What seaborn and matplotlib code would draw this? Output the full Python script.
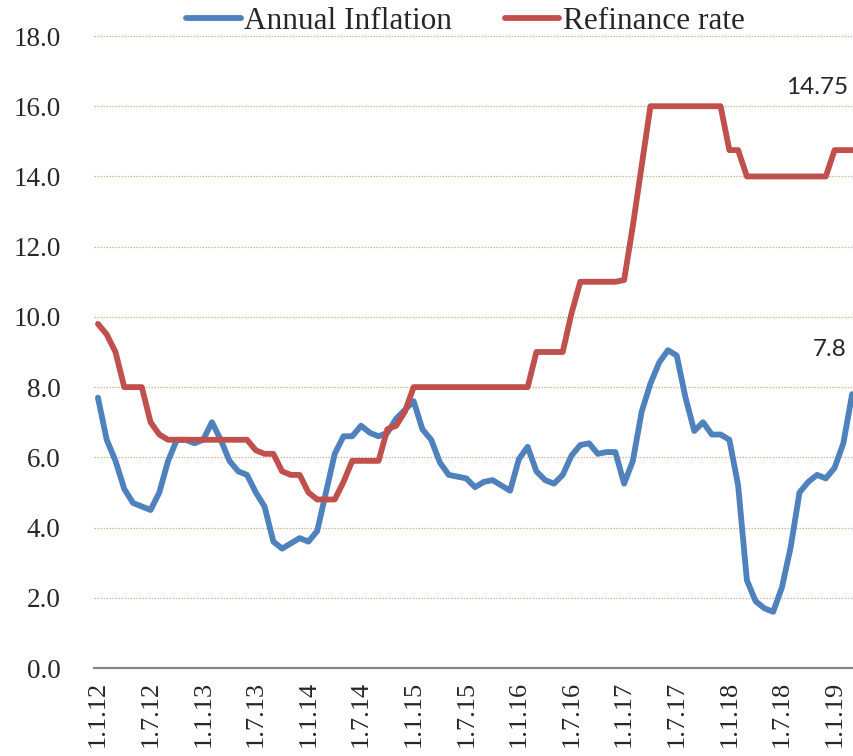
import numpy as np
import pandas as pd
import matplotlib
matplotlib.use("Agg")
import matplotlib.pyplot as plt
import seaborn as sns

# Monthly data, Jan 2012 .. Mar 2019
inflation = [7.7, 6.5, 5.9, 5.1, 4.7, 4.6, 4.5, 5.0, 5.9, 6.5, 6.5, 6.4,
             6.5, 7.0, 6.5, 5.9, 5.6, 5.5, 5.0, 4.6, 3.6, 3.4, 3.55, 3.7,
             3.6, 3.9, 5.0, 6.1, 6.6, 6.6, 6.9, 6.7, 6.6, 6.7, 7.1, 7.35,
             7.6, 6.8, 6.5, 5.85, 5.5, 5.45, 5.4, 5.15, 5.3, 5.35, 5.2, 5.05,
             5.95, 6.3, 5.6, 5.35, 5.25, 5.5, 6.05, 6.35, 6.4, 6.1, 6.15, 6.15,
             5.25, 5.9, 7.3, 8.1, 8.7, 9.05, 8.9, 7.7, 6.75, 7.0, 6.65, 6.65,
             6.5, 5.2, 2.5, 1.9, 1.7, 1.6, 2.3, 3.45, 5.0, 5.3, 5.5, 5.4,
             5.7, 6.4, 7.8]
refinance = [9.8, 9.5, 9.0, 8.0, 8.0, 8.0, 7.0, 6.65, 6.5, 6.5, 6.5, 6.5,
             6.5, 6.5, 6.5, 6.5, 6.5, 6.5, 6.2, 6.1, 6.1, 5.6, 5.5, 5.5,
             5.0, 4.8, 4.8, 4.8, 5.3, 5.9, 5.9, 5.9, 5.9, 6.8, 6.9, 7.3,
             8.0, 8.0, 8.0, 8.0, 8.0, 8.0, 8.0, 8.0, 8.0, 8.0, 8.0, 8.0,
             8.0, 8.0, 9.0, 9.0, 9.0, 9.0, 10.1, 11.0, 11.0, 11.0, 11.0, 11.0,
             11.05, 12.6, 14.3, 16.0, 16.0, 16.0, 16.0, 16.0, 16.0, 16.0, 16.0, 16.0,
             14.75, 14.75, 14.0, 14.0, 14.0, 14.0, 14.0, 14.0, 14.0, 14.0, 14.0, 14.0,
             14.75, 14.75, 14.75]
tick_labels = ["1.1.12", "1.7.12", "1.1.13", "1.7.13", "1.1.14", "1.7.14",
               "1.1.15", "1.7.15", "1.1.16", "1.7.16", "1.1.17", "1.7.17",
               "1.1.18", "1.7.18", "1.1.19"]
series_names = ["Annual Inflation", "Refinance rate"]
series_colors = ["#4F81BD", "#C0504D"]

n = len(inflation)
df = pd.DataFrame({
    "month": list(range(n)) * 2,
    "value": inflation + refinance,
    "series": [series_names[0]] * n + [series_names[1]] * n,
})

sns.set_style("white")
plt.rcParams["font.family"] = ["Liberation Serif", "DejaVu Serif"]

fig = plt.figure(figsize=(8.54, 7.56), dpi=100)
ax = fig.add_axes([94 / 854, 1 - 668 / 756, (853 - 94) / 854, (668 - 36) / 756])

sns.lineplot(data=df, x="month", y="value", hue="series",
             palette=dict(zip(series_names, series_colors)),
             linewidth=4.2, ax=ax, legend=True,
             solid_capstyle="round", solid_joinstyle="round")

ax.set_xlim(-0.45, n - 1 + 0.1)
ax.set_ylim(0, 18)
ax.set_yticks(np.arange(0, 18.1, 2))
ax.set_yticklabels([f"{v:.1f}" for v in np.arange(0, 18.1, 2)], fontsize=19.5)
ax.set_xticks(np.arange(0, n, 6))
ax.set_xticklabels(tick_labels, rotation=90, fontsize=19)
ax.tick_params(axis="both", length=0)
ax.tick_params(axis="x", pad=9)
ax.tick_params(axis="y", pad=24)
ax.set_xlabel("")
ax.set_ylabel("")

ax.grid(axis="y", color="#C8B98C", linestyle=(0, (1.2, 1.2)), linewidth=0.9)
ax.grid(axis="x", visible=False)
for s in ["left", "right", "top"]:
    ax.spines[s].set_visible(False)
ax.spines["bottom"].set_color("#868686")
ax.spines["bottom"].set_linewidth(1.6)
ax.set_axisbelow(True)

leg = ax.legend(loc="lower center", bbox_to_anchor=(0.489, 0.98), ncol=2,
                frameon=False, fontsize=22.5, handlelength=1.75,
                columnspacing=1.7, handletextpad=0.1, borderaxespad=0)
for line in leg.get_lines():
    line.set_linewidth(4.2)
    line.set_solid_capstyle("round")

ax.annotate("14.75", xy=(n - 1, refinance[-1]), xytext=(-3, 45),
            textcoords="offset points", ha="right", va="center",
            fontsize=17.5, family=["Lato", "DejaVu Sans"])
ax.annotate("7.8", xy=(n - 1, inflation[-1]), xytext=(-4, 32),
            textcoords="offset points", ha="right", va="center",
            fontsize=17.5, family=["Lato", "DejaVu Sans"])

fig.savefig("out.png", dpi=100)
